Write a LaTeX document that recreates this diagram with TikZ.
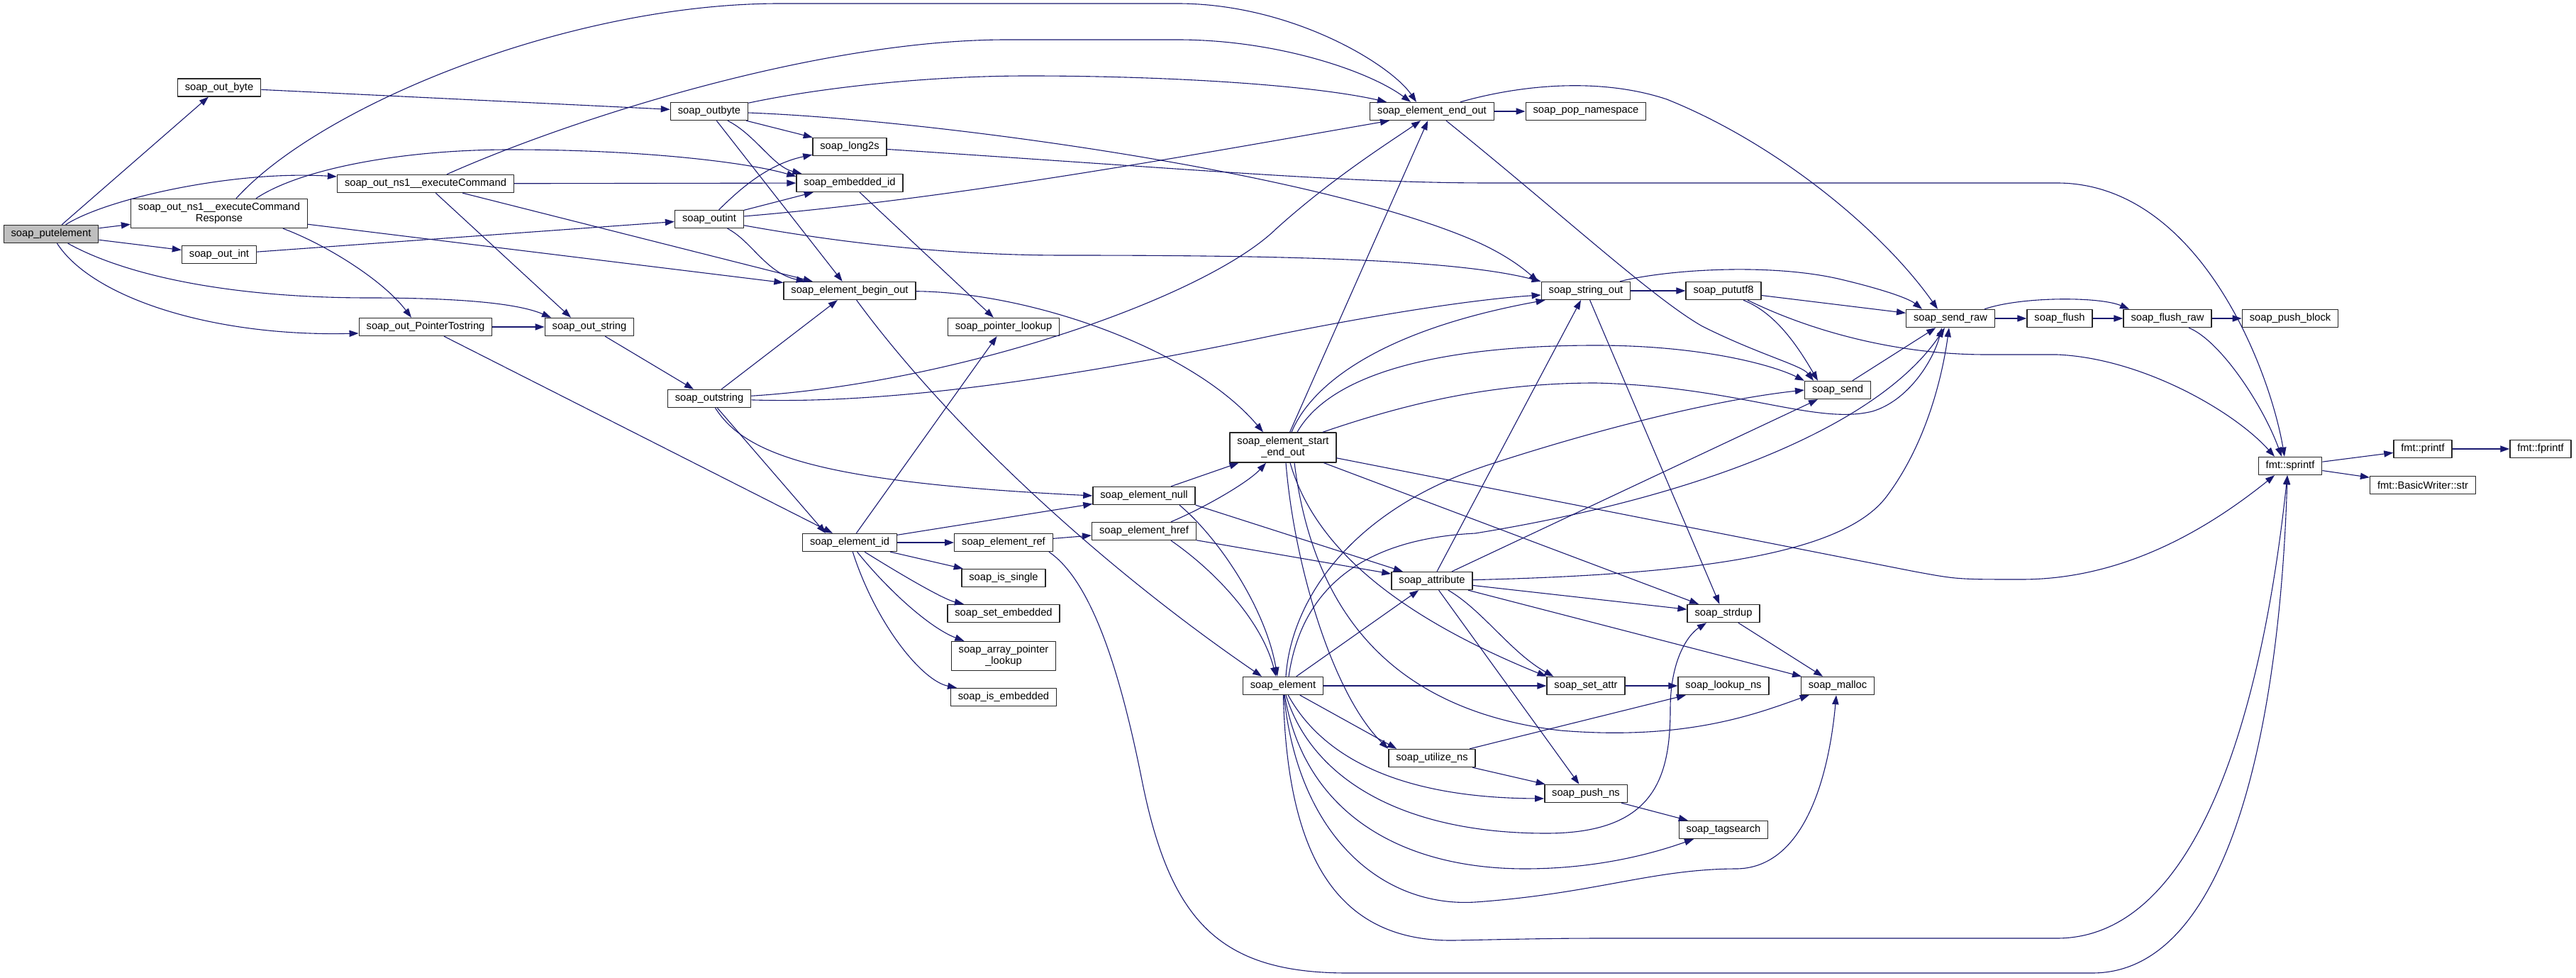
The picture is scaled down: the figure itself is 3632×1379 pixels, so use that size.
\documentclass[tikz,border=0pt]{standalone}
\usepackage{fontspec}
\setmainfont{Liberation Sans}
\usetikzlibrary{arrows.meta}
\definecolor{edgeblue}{HTML}{191970}
\definecolor{grey75}{HTML}{BFBFBF}
\newcommand{\fnsize}{\fontsize{7.35pt}{8pt}\selectfont}
\tikzset{
  fn/.style={draw=black!85,fill=white,line width=0.7pt,inner xsep=5.2pt,inner ysep=1pt,minimum height=12.5pt,align=center,font=\fnsize},
  fnroot/.style={fn,fill=grey75},
  fntwo/.style={fn,minimum height=20.5pt},
  call/.style={->,draw=edgeblue,line width=0.55pt}
}
\begin{document}
\begin{tikzpicture}[x=0.5pt,y=-0.5pt,>={Triangle[length=6.5pt,width=4.6pt]},line join=round]
\useasboundingbox (0,0) rectangle (3632,1379);
% functions
\node[fnroot] (pute) at (72,330) {soap\_putelement};
\node[fn] (outbyteA) at (309,123.5) {soap\_out\_byte};
\node[fntwo] (execresp) at (309,301) {soap\_out\_ns1\_\_executeCommand\\Response};
\node[fn] (execcmd) at (600,259) {soap\_out\_ns1\_\_executeCommand};
\node[fn] (outintA) at (309,359) {soap\_out\_int};
\node[fn] (ptrstr) at (600,461) {soap\_out\_PointerTostring};
\node[fn] (outstringA) at (831,461) {soap\_out\_string};
\node[fn] (outbyte) at (1000,157) {soap\_outbyte};
\node[fn] (longs) at (1198,207) {soap\_long2s};
\node[fn] (embid) at (1198,258) {soap\_embedded\_id};
\node[fn] (outint) at (1000,309) {soap\_outint};
\node[fn] (beginout) at (1198,410) {soap\_element\_begin\_out};
\node[fn] (outstring) at (1000,562) {soap\_outstring};
\node[fn] (elemid) at (1198,765) {soap\_element\_id};
\node[fn] (ptrlookup) at (1415,461) {soap\_pointer\_lookup};
\node[fn] (elemref) at (1415,765) {soap\_element\_ref};
\node[fn] (issingle) at (1415,815) {soap\_is\_single};
\node[fn] (setemb) at (1415,865) {soap\_set\_embedded};
\node[fntwo] (arrptr) at (1415,925) {soap\_array\_pointer\\\_lookup};
\node[fn] (isemb) at (1415,983) {soap\_is\_embedded};
\node[fn] (endout) at (2019,157) {soap\_element\_end\_out};
\node[fn] (popns) at (2236,157) {soap\_pop\_namespace};
\node[fn] (stringout) at (2236,410) {soap\_string\_out};
\node[fn] (pututf) at (2430,410) {soap\_pututf8};
\node[fn] (send) at (2591,550) {soap\_send};
\node[fntwo,minimum height=21pt] (startend) at (1809,631) {soap\_element\_start\\\_end\_out};
\node[fn] (elemnull) at (1613,699) {soap\_element\_null};
\node[fn] (elemhref) at (1613,749) {soap\_element\_href};
\node[fn] (attribute) at (2019,819) {soap\_attribute};
\node[fn] (strdup) at (2430,865) {soap\_strdup};
\node[fn] (element) at (1809,967) {soap\_element};
\node[fn] (setattr) at (2236,967) {soap\_set\_attr};
\node[fn] (lookupns) at (2430,967) {soap\_lookup\_ns};
\node[fn] (malloc) at (2591,967) {soap\_malloc};
\node[fn] (utilize) at (2019,1069) {soap\_utilize\_ns};
\node[fn] (pushns) at (2236,1119) {soap\_push\_ns};
\node[fn] (tagsearch) at (2430,1170) {soap\_tagsearch};
\node[fn] (sendraw) at (2750,449) {soap\_send\_raw};
\node[fn] (flush) at (2904,449) {soap\_flush};
\node[fn] (flushraw) at (3056,449) {soap\_flush\_raw};
\node[fn] (pushblock) at (3229,449) {soap\_push\_block};
\node[fn] (sprintf) at (3229,657) {fmt::sprintf};
\node[fn] (printf) at (3416,633) {fmt::printf};
\node[fn] (fprintf) at (3582,633) {fmt::fprintf};
\node[fn] (bwstr) at (3416,684) {fmt::BasicWriter::str};
% straight calls
\foreach \a/\b in {pute/outbyteA,pute/execresp,pute/outintA,outbyteA/outbyte,outintA/outint,
  execcmd/embid,execcmd/beginout,execresp/beginout,ptrstr/outstringA,outstringA/outstring,
  outbyte/longs,outbyte/beginout,outint/embid,outstring/beginout,embid/ptrlookup,
  elemid/ptrlookup,elemid/elemnull,elemid/elemref,elemid/issingle,elemref/elemhref,
  elemnull/startend,elemhref/attribute,startend/endout,startend/strdup,endout/popns,
  stringout/pututf,stringout/strdup,pututf/sendraw,attribute/stringout,attribute/send,
  attribute/strdup,attribute/malloc,attribute/pushns,element/attribute,element/setattr,
  setattr/lookupns,utilize/lookupns,utilize/pushns,pushns/tagsearch,strdup/malloc,
  send/sendraw,sendraw/flush,flush/flushraw,flushraw/pushblock,sprintf/printf,
  sprintf/bwstr,printf/fprintf}
  \draw[call] (\a) -- (\b);
\draw[call] (ptrstr) -- ([xshift=-12pt]elemid.north);
\draw[call] (outstring) -- ([xshift=-17pt]elemid.north);
\draw[call] (execcmd) -- ([xshift=-13pt]outstringA.north);
\draw[call] (elemnull.south east) -- (attribute);
\draw[call] (element) -- ([xshift=6pt]utilize.north west);
% curved calls
\draw[call] (pute) .. controls (150,280) and (330,240) .. ([yshift=5pt]execcmd.west);
\draw[call] (pute) .. controls (180,390) and (330,420) .. (520,420) .. controls (680,420) and (740,432) .. ([xshift=-27pt]outstringA.north);
\draw[call] (pute) .. controls (130,420) and (300,475) .. ([yshift=-4.5pt]ptrstr.west);
\draw[call] ([xshift=12pt]execresp.north) .. controls (450,150) and (800,5) .. (1100,5) -- (1660,5) .. controls (1820,5) and (1960,90) .. ([xshift=-11pt]endout.north);
\draw[call] ([xshift=26pt]execresp.north) .. controls (420,240) and (560,211) .. (720,211) .. controls (900,211) and (1050,228) .. ([yshift=-2pt]embid.north west);
\draw[call] ([xshift=45pt]execresp.south) .. controls (460,345) and (540,395) .. ([xshift=-10pt]ptrstr.north);
\draw[call] ([xshift=15pt]execcmd.north) .. controls (800,170) and (1150,56) .. (1420,56) -- (1660,56) .. controls (1800,56) and (1930,100) .. ([xshift=-15pt]endout.north);
\draw[call] (outbyte) .. controls (1150,125) and (1300,107) .. (1450,107) .. controls (1650,107) and (1850,120) .. ([xshift=-32pt]endout.north);
\draw[call] (outbyte) .. controls (1300,168) and (1850,240) .. (2080,340) .. controls (2130,362) and (2155,385) .. ([xshift=-2pt]stringout.north west);
\draw[call] (outbyte) .. controls (1065,190) and (1090,235) .. ([xshift=4pt]embid.north west);
\draw[call] (outint) .. controls (1040,270) and (1080,232) .. (longs);
\draw[call] (outint) .. controls (1350,280) and (1700,215) .. ([xshift=-30pt]endout.south);
\draw[call] (outint) .. controls (1200,345) and (1350,360) .. (1500,360) .. controls (1800,360) and (2050,365) .. (stringout.north west);
\draw[call] (outint) .. controls (1060,340) and (1080,385) .. (beginout);
\draw[call] (outstring) .. controls (1350,540) and (1700,420) .. (1800,322) .. controls (1880,250) and (1960,200) .. ([xshift=-8pt]endout.south);
\draw[call] (outstring) .. controls (1250,570) and (1500,535) .. (1800,472) .. controls (1950,442) and (2080,422) .. ([yshift=-3pt]stringout.west);
\draw[call] (outstring) .. controls (1050,640) and (1150,680) .. (elemnull.west);
\draw[call] (longs) .. controls (1700,240) and (1900,258) .. (2100,258) -- (2900,258) .. controls (3100,258) and (3200,520) .. ([xshift=-4pt]sprintf.north);
\draw[call] (beginout) .. controls (1450,412) and (1680,490) .. ([xshift=-14pt]startend.north);
\draw[call] (beginout) .. controls (1330,590) and (1540,790) .. ([xshift=-15pt]element.north);
\draw[call] (elemid) .. controls (1270,810) and (1330,845) .. (setemb);
\draw[call] (elemid) .. controls (1250,830) and (1310,885) .. (arrptr);
\draw[call] (elemid) .. controls (1235,880) and (1300,960) .. (isemb);
\draw[call] ([xshift=-3pt]elemref.south east) .. controls (1540,820) and (1580,950) .. (1610,1100) .. controls (1650,1300) and (1720,1372) .. (1900,1372) -- (2950,1372) .. controls (3150,1372) and (3215,1000) .. ([xshift=-2pt]sprintf.south);
\draw[call] ([xshift=25pt]elemnull.south) .. controls (1720,760) and (1785,860) .. ([xshift=-4pt]element.north);
\draw[call] ([xshift=19pt]elemhref.north) .. controls (1700,715) and (1760,680) .. ([xshift=-12pt]startend.south);
\draw[call] ([xshift=19pt]elemhref.south) .. controls (1720,810) and (1780,880) .. ([xshift=-5pt]element.north);
\draw[call] ([xshift=6pt]startend.north) .. controls (1850,540) and (1950,465) .. ([xshift=3pt]stringout.south west);
\draw[call] ([xshift=10pt]startend.north) .. controls (1880,520) and (2050,487) .. (2250,487) .. controls (2400,487) and (2500,515) .. (send.north west);
\draw[call] ([xshift=28pt]startend.north) .. controls (1980,570) and (2100,540) .. (2250,540) .. controls (2450,545) and (2560,600) .. (2640,580) .. controls (2690,565) and (2725,510) .. ([xshift=-6pt]sendraw.south);
\draw[call] (startend) -- (2700,806) .. controls (2760,817) .. (2850,817) .. controls (3000,817) and (3120,740) .. ([xshift=-11pt]sprintf.south);
\draw[call] ([xshift=5pt]startend.south) .. controls (1850,760) and (1950,860) .. (setattr.north west);
\draw[call] ([xshift=2pt]startend.south) .. controls (1825,800) and (1880,980) .. (utilize.north west);
\draw[call] ([xshift=8pt]startend.south) .. controls (1850,850) and (1950,1000) .. (2200,1030) .. controls (2380,1045) and (2480,1005) .. ([xshift=6pt]malloc.south west);
\draw[call] ([xshift=10pt]endout.south) .. controls (2200,300) and (2330,420) .. (2400,460) .. controls (2480,500) and (2540,515) .. ([xshift=-17pt]send.north);
\draw[call] ([xshift=20pt]endout.north) .. controls (2150,118) and (2260,110) .. (2350,140) .. controls (2500,200) and (2650,320) .. ([xshift=-9pt]sendraw.north);
\draw[call] ([xshift=24pt]stringout.north) .. controls (2350,380) and (2500,370) .. (2600,395) .. controls (2650,407) and (2690,420) .. ([xshift=-20pt]sendraw.north);
\draw[call] ([xshift=14pt]pututf.south) .. controls (2500,440) and (2530,480) .. ([xshift=-14pt]send.north);
\draw[call] ([xshift=17pt]pututf.south) .. controls (2560,470) and (2680,500) .. (2800,500) -- (2900,500) .. controls (3020,505) and (3150,580) .. ([xshift=-11pt]sprintf.north);
\draw[call] (attribute) .. controls (2400,810) and (2600,780) .. (2660,700) .. controls (2720,620) and (2740,520) .. ([xshift=-1pt]sendraw.south);
\draw[call] (attribute) .. controls (2090,860) and (2130,920) .. ([xshift=5pt]setattr.north west);
\draw[call] (element) .. controls (1860,1060) and (1960,1125) .. ([yshift=-3.5pt]pushns.west);
\draw[call] (element) .. controls (1850,1100) and (1980,1175) .. (2180,1175) .. controls (2330,1175) and (2355,1100) .. (2355,1000) .. controls (2355,930) and (2380,895) .. ([xshift=-12pt]strdup.south);
\draw[call] (element) .. controls (1840,1150) and (1980,1225) .. (2150,1225) .. controls (2260,1225) and (2340,1200) .. ([xshift=-21pt]tagsearch.south);
\draw[call] (element) .. controls (1830,1180) and (1950,1280) .. (2080,1272) .. controls (2250,1260) and (2330,1225) .. (2450,1225) .. controls (2550,1222) and (2580,1080) .. ([xshift=-1pt]malloc.south);
\draw[call] (element) .. controls (1815,1200) and (1880,1328) .. (2050,1326) .. controls (2200,1323) .. (2300,1323) -- (2900,1323) .. controls (3100,1323) and (3190,1000) .. ([xshift=-2pt]sprintf.south);
\draw[call] ([xshift=2pt]element.north) .. controls (1820,850) and (1900,720) .. (2100,655) .. controls (2300,590) and (2450,560) .. (send.west);
\draw[call] ([xshift=4pt]element.north) .. controls (1835,830) and (1920,760) .. (2080,752) .. controls (2400,700) and (2650,600) .. ([xshift=-4pt]sendraw.south);
\draw[call] ([xshift=24pt]sendraw.north) .. controls (2850,418) and (2960,418) .. ([xshift=-27pt]flushraw.north);
\draw[call] ([xshift=15pt]flushraw.south) .. controls (3130,480) and (3190,570) .. ([xshift=-6pt]sprintf.north);
\end{tikzpicture}
\end{document}
